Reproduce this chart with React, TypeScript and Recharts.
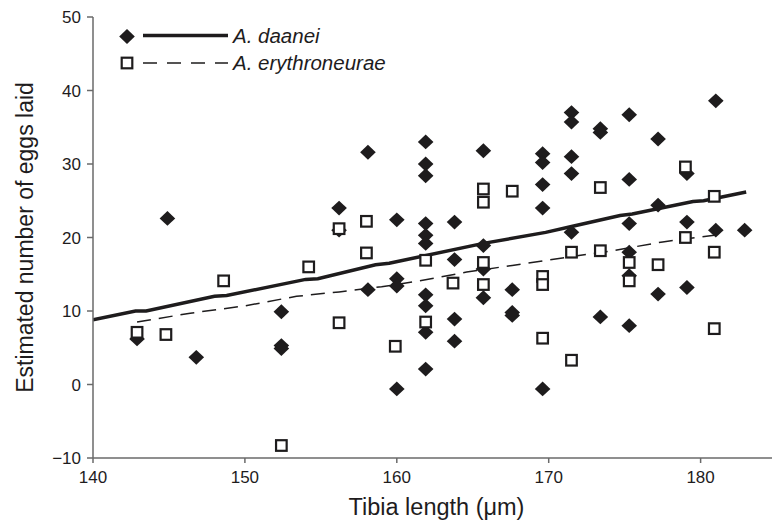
import React from 'react';
import { ComposedChart, Scatter, Line, XAxis, YAxis, Customized } from 'recharts';

const seriesNames = ['A. daanei', 'A. erythroneurae'];
const xTicks = [140, 150, 160, 170, 180];
const yTicks = [-10, 0, 10, 20, 30, 40, 50];
const xTitle = 'Tibia length (\u03bcm)';
const yTitle = 'Estimated number of eggs laid';

const daaneiPoints: [number, number][] = [
  [142.9, 6.2], [144.9, 22.6], [146.8, 3.7],
  [152.4, 9.9], [152.4, 5.3], [152.4, 4.9],
  [156.2, 24.0], [156.2, 21.0],
  [158.1, 31.6], [158.1, 12.9],
  [160.0, 22.4], [160.0, 14.4], [160.0, 13.4], [160.0, -0.6],
  [161.9, 33.0], [161.9, 30.0], [161.9, 28.4], [161.9, 21.9], [161.9, 20.3],
  [161.9, 19.2], [161.9, 12.2], [161.9, 10.7], [161.9, 7.1], [161.9, 2.1],
  [163.8, 22.1], [163.8, 17.0], [163.8, 8.9], [163.8, 5.9],
  [165.7, 31.8], [165.7, 18.9], [165.7, 15.7], [165.7, 11.8],
  [167.6, 12.9], [167.6, 9.8], [167.6, 9.4],
  [169.6, 31.4], [169.6, 30.2], [169.6, 27.2], [169.6, 24.0], [169.6, -0.6],
  [171.5, 37.0], [171.5, 35.7], [171.5, 31.0], [171.5, 28.7], [171.5, 20.7],
  [173.4, 34.8], [173.4, 34.3], [173.4, 9.2],
  [175.3, 36.7], [175.3, 27.9], [175.3, 21.9], [175.3, 18.0], [175.3, 14.8], [175.3, 8.0],
  [177.2, 33.4], [177.2, 24.4], [177.2, 12.3],
  [179.1, 28.7], [179.1, 22.1], [179.1, 13.2],
  [181.0, 38.6], [181.0, 21.0],
  [182.9, 21.0],
];

const erythroPoints: [number, number][] = [
  [142.9, 7.1], [144.8, 6.8], [148.6, 14.1], [152.4, -8.3], [154.2, 16.0],
  [156.2, 21.2], [156.2, 8.4], [158.0, 22.2], [158.0, 17.9], [159.9, 5.2],
  [161.9, 16.9], [161.9, 8.5], [163.7, 13.8],
  [165.7, 26.6], [165.7, 24.8], [165.7, 16.6], [165.7, 13.6],
  [167.6, 26.3], [169.6, 14.7], [169.6, 13.6], [169.6, 6.3],
  [171.5, 18.0], [171.5, 3.3], [173.4, 26.8], [173.4, 18.2],
  [175.3, 16.6], [175.3, 14.1], [177.2, 16.3],
  [179.0, 29.6], [179.0, 20.0], [180.9, 25.6], [180.9, 18.0], [180.9, 7.6],
];

const daaneiFit: [number, number][] = [
  [140, 8.8], [142.8, 10.0], [143.5, 10.0], [148.0, 12.0], [148.8, 12.1],
  [154.0, 14.3], [154.8, 14.4], [158.6, 16.3], [159.5, 16.5], [165.7, 19.2],
  [169.8, 20.7], [171.5, 21.5], [174.7, 23.0], [175.5, 23.2], [179.5, 24.9],
  [180.2, 25.0], [183.0, 26.2],
];

const erythroFit: [number, number][] = [
  [142.9, 8.5], [146.4, 9.7], [150.0, 10.7], [153.4, 12.0], [156.2, 12.6],
  [159.0, 13.3], [161.5, 14.1], [164.6, 15.3], [167.6, 16.2], [171.2, 17.3],
  [174.2, 18.2], [177.5, 19.4], [180.9, 20.3],
];

const toObj = (arr: [number, number][]) => arr.map(([x, y]) => ({ x, y }));

const INK = '#1e1c1d';
const AXIS = '#6a6a6a';
const FONT = '"Liberation Sans", Arial, Helvetica, sans-serif';

const Diamond = ({ cx, cy }: any) => (
  <path d={`M${cx},${cy - 7.4} L${cx + 7.8},${cy} L${cx},${cy + 7.4} L${cx - 7.8},${cy} Z`} fill={INK} />
);
const Square = ({ cx, cy }: any) => (
  <rect x={cx - 5.3} y={cy - 5.3} width={10.6} height={10.6} fill="#fff" stroke={INK} strokeWidth={2.2} />
);

const LegendSvg = () => (
  <g fontFamily={FONT}>
    <Diamond cx={127} cy={36.5} />
    <line x1={143} x2={228} y1={35.5} y2={35.5} stroke={INK} strokeWidth={3.5} />
    <text x={233} y={43} fontSize={20.5} fontStyle="italic" fill={INK}>{seriesNames[0]}</text>
    <Square cx={127} cy={63} />
    <line x1={143} x2={228} y1={63} y2={63} stroke={INK} strokeWidth={1.5} strokeDasharray="14 10" />
    <text x={233} y={70} fontSize={20.5} fontStyle="italic" fill={INK}>{seriesNames[1]}</text>
  </g>
);

const fmtY = (v: number) => String(v).replace('-', '\u2212');

export default function App() {
  return (
    <div style={{ position: 'absolute', left: 0, top: 0, background: '#fff' }}>
      <ComposedChart width={772} height={520} margin={{ top: 17, right: 0, bottom: 0, left: 0 }}>
        <XAxis
          type="number"
          dataKey="x"
          domain={[140, 184.7]}
          ticks={xTicks}
          allowDataOverflow
          height={62}
          tickSize={5}
          tickMargin={8}
          stroke={AXIS}
          strokeWidth={1.5}
          tick={{ fill: INK, fontSize: 17, fontFamily: FONT }}
          label={{ value: xTitle, position: 'insideBottom', offset: 5, dx: 4, style: { fontSize: 23.5, fontFamily: FONT, fill: INK } }}
        />
        <YAxis
          type="number"
          dataKey="y"
          domain={[-10, 50]}
          ticks={yTicks}
          allowDataOverflow
          width={93}
          tickSize={6}
          tickMargin={6}
          tickFormatter={fmtY}
          stroke={AXIS}
          strokeWidth={1.5}
          tick={{ fill: INK, fontSize: 17, fontFamily: FONT }}
          label={{ value: yTitle, angle: -90, position: 'insideLeft', offset: 25, style: { textAnchor: 'middle', fontSize: 23, fontFamily: FONT, fill: INK } }}
        />
        <Scatter name={seriesNames[0]} data={toObj(daaneiPoints)} dataKey="y" shape={(p: any) => <Diamond cx={p.cx} cy={p.cy} />} isAnimationActive={false} />
        <Scatter name={seriesNames[1]} data={toObj(erythroPoints)} dataKey="y" shape={(p: any) => <Square cx={p.cx} cy={p.cy} />} isAnimationActive={false} />
        <Line data={toObj(daaneiFit)} dataKey="y" type="linear" dot={false} activeDot={false} stroke={INK} strokeWidth={3.5} isAnimationActive={false} />
        <Line data={toObj(erythroFit)} dataKey="y" type="linear" dot={false} activeDot={false} stroke={INK} strokeWidth={1.5} strokeDasharray="14 8" isAnimationActive={false} />
        <Customized component={LegendSvg} />
      </ComposedChart>
    </div>
  );
}
